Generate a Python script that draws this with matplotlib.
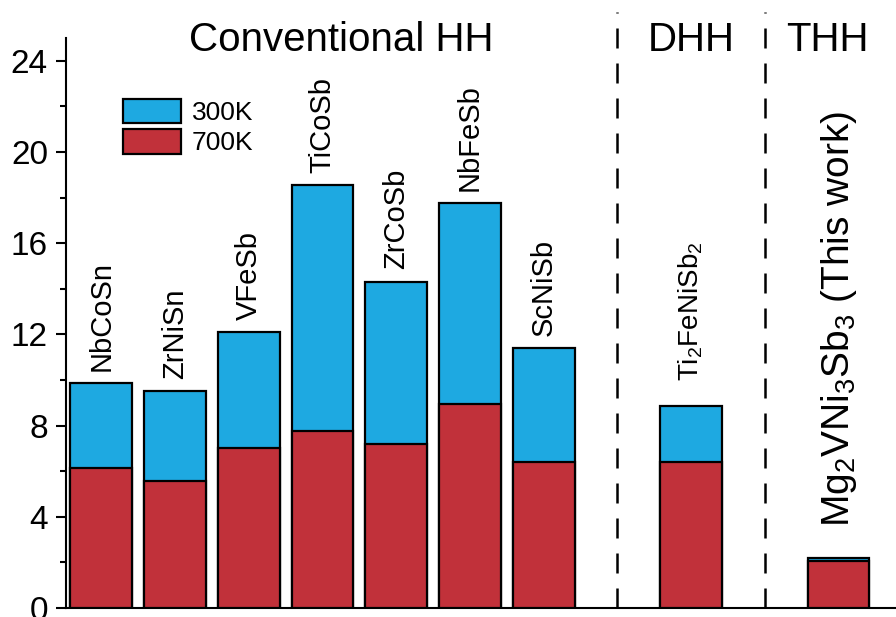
import matplotlib
matplotlib.use('Agg')
import matplotlib.pyplot as plt
from matplotlib.patches import Patch

plt.rcParams['font.family'] = ['Liberation Sans', 'DejaVu Sans']
plt.rcParams['mathtext.fontset'] = 'custom'
plt.rcParams['mathtext.rm'] = 'Liberation Sans'
plt.rcParams['mathtext.default'] = 'regular'

compounds = ['NbCoSn', 'ZrNiSn', 'VFeSb', 'TiCoSb', 'ZrCoSb', 'NbFeSb', 'ScNiSb',
             r'Ti$_2$FeNiSb$_2$', r'Mg$_2$VNi$_3$Sb$_3$ (This work)']
slots = [0, 1, 2, 3, 4, 5, 6, 8, 10]
k300 = [9.85, 9.5, 12.1, 18.55, 14.3, 17.75, 11.4, 8.85, 2.2]
k700 = [6.15, 5.55, 7.0, 7.75, 7.2, 8.95, 6.4, 6.4, 2.05]
groups = ['Conventional HH', 'DHH', 'THH']
group_x = [3.26, 8.0, 9.85]
dividers = [7, 9]

blue = '#1EA9E1'
red = '#C1313A'

fig = plt.figure(figsize=(8.96, 6.17), dpi=100)
ax = fig.add_axes([66 / 896, 9 / 617, 830 / 896, 570 / 617])

ax.bar(slots, k300, width=0.84, color=blue, edgecolor='black', linewidth=1.6, zorder=2)
ax.bar(slots, k700, width=0.84, color=red, edgecolor='black', linewidth=1.6, zorder=3)

# compound labels above the bars
for i, (x, top, name) in enumerate(zip(slots, k300, compounds)):
    if i < 7:
        size, off = 21, 9
    elif i == 7:
        size, off = 20, 18
    else:
        size, off = 28, 22
    ax.annotate(name, (x, top), xytext=(0, off), textcoords='offset points',
                rotation=90, ha='center', va='bottom', fontsize=size)

for x in dividers:
    ax.plot([x, x], [0, 26.15], color='black', lw=1.8,
            linestyle=(0, (8, 6)), clip_on=False, zorder=1)

for x, g in zip(group_x, groups):
    ax.text(x, 24.44, g, ha='center', va='baseline', fontsize=29)

ax.set_xlim(-0.48, 10.78)
ax.set_ylim(0, 25)
ax.set_yticks(range(0, 25, 4))
ax.set_yticks(range(2, 25, 4), minor=True)
ax.set_xticks([])
ax.tick_params(axis='y', which='major', labelsize=24, length=7, width=1.5, pad=6)
ax.tick_params(axis='y', which='minor', length=4, width=1.5)
for s in ['top', 'right']:
    ax.spines[s].set_visible(False)
ax.spines['left'].set_linewidth(1.5)
ax.spines['bottom'].set_linewidth(1.5)

handles = [Patch(facecolor=blue, edgecolor='black', linewidth=1.6, label='300K'),
           Patch(facecolor=red, edgecolor='black', linewidth=1.6, label='700K')]
ax.legend(handles=handles, loc='upper left', bbox_to_anchor=(0.069, 0.893),
          frameon=False, fontsize=19, handlelength=2.2, handleheight=1.05,
          labelspacing=0.15, handletextpad=0.4, borderpad=0, borderaxespad=0)

fig.savefig('out.png', dpi=100)
